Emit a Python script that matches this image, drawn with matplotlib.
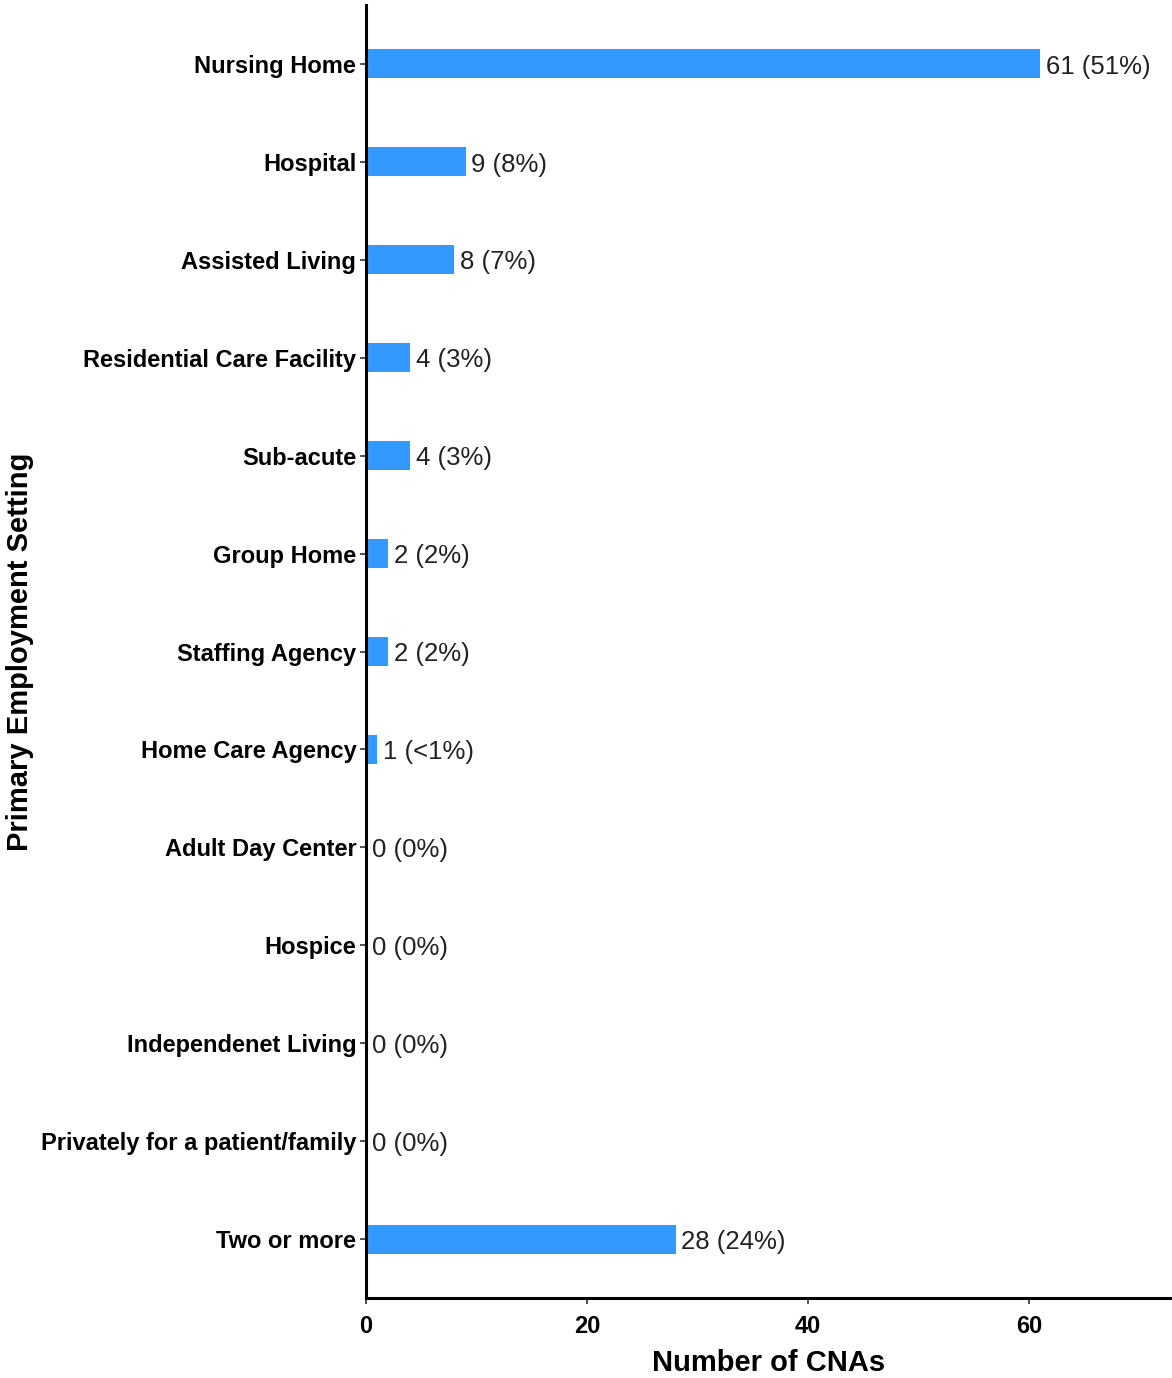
import matplotlib.pyplot as plt

categories = [
    "Nursing Home",
    "Hospital",
    "Assisted Living",
    "Residential Care Facility",
    "Sub-acute",
    "Group Home",
    "Staffing Agency",
    "Home Care Agency",
    "Adult Day Center",
    "Hospice",
    "Independenet Living",
    "Privately for a patient/family",
    "Two or more",
]
counts = [61, 9, 8, 4, 4, 2, 2, 1, 0, 0, 0, 0, 28]
pct_labels = ["51%", "8%", "7%", "3%", "3%", "2%", "2%", "<1%", "0%", "0%", "0%", "0%", "24%"]

plt.rcParams["font.family"] = ["Liberation Sans Narrow", "Liberation Sans", "DejaVu Sans"]

fig = plt.figure(figsize=(11.72, 13.78), dpi=100)
ax = fig.add_axes([366 / 1172, 80 / 1378, 806 / 1172, 1293 / 1378])

ypos = list(range(len(categories)))
ax.barh(ypos, counts, height=0.3, color="#3399FF", zorder=2)

for y, c, p in zip(ypos, counts, pct_labels):
    ax.annotate(
        f"{c} ({p})",
        (c, y),
        xytext=(4, -2),
        textcoords="offset points",
        va="center",
        ha="left",
        fontsize=18.5,
        color="#222222",
    )

ax.set_xlim(0, 72.9)
ax.set_ylim(len(categories) - 0.4, -0.6)
ax.set_yticks(ypos)
ax.set_yticklabels(categories, fontsize=17, fontweight="bold")
ax.set_xticks([0, 20, 40, 60])
ax.tick_params(axis="x", labelsize=17, length=4, width=1.2, color="#333333", pad=8)
ax.tick_params(axis="y", length=4, width=1.2, color="#333333", pad=3)
for lab in ax.get_xticklabels():
    lab.set_fontweight("bold")

for s in ["top", "right"]:
    ax.spines[s].set_visible(False)
for s in ["left", "bottom"]:
    ax.spines[s].set_linewidth(2.2)
    ax.spines[s].set_color("black")

ax.set_xlabel("Number of CNAs", fontsize=21, fontweight="bold", labelpad=8)
ax.set_ylabel("Primary Employment Setting", fontsize=21, fontweight="bold")
ax.yaxis.set_label_coords(-0.412, 0.5)

fig.savefig("out.png", dpi=100)
